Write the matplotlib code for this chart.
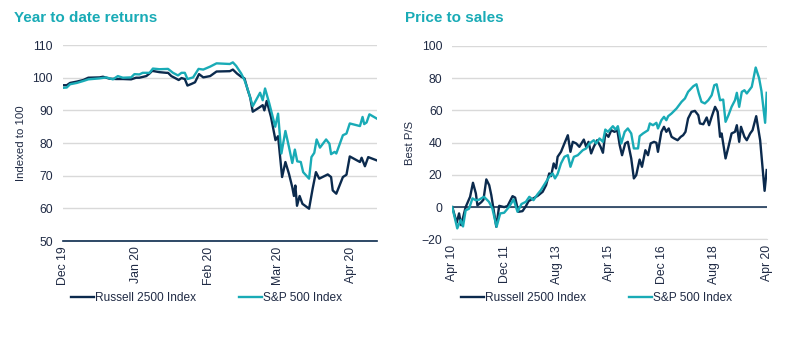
import numpy as np
import pandas as pd
import matplotlib
matplotlib.use('Agg')
import matplotlib.pyplot as plt

plt.rcParams['font.family'] = ['Liberation Sans', 'DejaVu Sans']

NAVY, TEAL, GRID, TXT = '#0b2a4d', '#19abb6', '#d9d9d9', '#1f2a44'

# ---- Year to date returns (x = days since 1 Dec 2019) ----
ytd_start = pd.Timestamp('2019-12-01')
ytd_ticks = ['2019-12-01', '2020-01-01', '2020-02-01', '2020-03-01', '2020-04-01']
ytd_labels = ['Dec 19', 'Jan 20', 'Feb 20', 'Mar 20', 'Apr 20']

r2500_days = [0, 1.7, 3.1, 5.9, 8.7, 10.8, 15.6, 17.0, 19.8, 22.6, 25.4, 28.9, 31, 32.4,
              35.3, 36.7, 37.8, 40.9, 43.8, 44.5, 45.9, 48.0, 49.0, 50.2, 51.6, 52.7,
              54.4, 55.9, 57.6, 59.4, 62.3, 65.0, 70.6, 71.9, 73.6, 75.4, 76.8, 78.2,
              79.2, 80.3, 83.1, 84.5, 85.2, 86.2, 88.0, 89.9, 91.0, 92.7, 94.1, 95.6,
              97.0, 97.7, 98.3, 99.0, 100.1, 101.3, 104.1, 105.6, 107.0, 108.4, 112.0,
              113.4, 114.1, 115.6, 118.4, 119.9, 121.3, 125.6, 126.3, 127.7, 129.1, 132.7]
r2500_ytd = [97.7, 97.7, 98.4, 98.8, 99.3, 100.0, 100.1, 100.3, 99.7, 99.6, 99.6, 99.5, 100.0,
             100.0, 100.5, 101.3, 102.1, 101.7, 101.5, 101.5, 100.5, 99.7, 99.3, 99.9, 99.6,
             97.6, 98.1, 98.6, 101.1, 100.1, 100.5, 101.9, 102.0, 102.5, 101.3, 100.3, 99.8,
             96.2, 94.0, 89.6, 90.9, 91.6, 90.0, 92.9, 88.0, 80.9, 82.1, 69.6, 74.2, 70.6,
             66.5, 63.8, 67.0, 60.8, 63.8, 61.4, 59.9, 66.0, 71.1, 69.1, 70.4, 69.6, 65.5,
             64.5, 69.6, 70.3, 75.9, 74.2, 75.5, 72.9, 75.7, 74.7]

sp500_days = [0, 1.7, 3.1, 5.9, 8.7, 10.8, 15.6, 18.4, 21.2, 23.3, 25.4, 28.9, 30.3, 32.4,
              33.8, 36.7, 38.1, 40.9, 44.5, 46.6, 48.7, 50.2, 51.6, 52.7, 55.1, 57.4, 59.4,
              62.3, 65.0, 70.6, 71.9, 73.3, 75.4, 76.8, 78.2, 80.3, 83.4, 84.5, 85.5, 87.3,
              89.8, 91.0, 92.4, 94.1, 95.6, 97.0, 98.1, 99.1, 100.6, 101.6, 104.1, 105.1,
              106.3, 107.3, 108.7, 111.3, 112.7, 113.4, 114.9, 115.6, 118.4, 119.9, 121.3,
              125.6, 126.7, 127.4, 128.4, 129.6, 132.7]
sp500_ytd = [96.9, 97.0, 98.0, 98.4, 99.0, 99.5, 99.8, 100.1, 99.5, 100.5, 100.0, 100.1, 101.1,
             101.0, 101.5, 101.5, 102.8, 102.6, 102.7, 101.5, 100.7, 101.5, 101.5, 99.6, 100.1,
             102.7, 102.5, 103.4, 104.4, 104.2, 104.7, 103.6, 101.3, 99.3, 96.4, 91.3, 95.4,
             93.1, 96.7, 92.1, 85.0, 89.0, 76.8, 83.7, 78.8, 73.9, 78.0, 74.4, 74.2, 71.1,
             69.1, 75.7, 77.0, 81.1, 78.6, 81.1, 79.8, 76.6, 77.3, 76.8, 82.4, 82.9, 86.0,
             85.2, 88.0, 85.8, 86.3, 88.8, 87.5]

# ---- Price to sales (x = months since Apr 2010) ----
ps_ticks = [0, 20, 40, 60, 80, 100, 120]
ps_labels = ['Apr 10', 'Dec 11', 'Aug 13', 'Apr 15', 'Dec 16', 'Aug 18', 'Apr 20']

r2500_months = [0, 1.7, 2.6, 3.4, 5.1, 6.8, 7.9, 9.0, 9.6, 11.1, 11.9, 13.0, 14.1, 14.9,
                16.8, 17.9, 19.8, 21.1, 23.0, 24.0, 25.2, 26.8, 28.1, 29.1, 32.6, 34.5,
                35.8, 37.0, 37.7, 38.7, 39.6, 40.2, 41.5, 42.8, 44.1, 45.1, 46.0, 47.3,
                48.5, 50.2, 51.1, 52.0, 53.0, 54.0, 55.3, 56.6, 57.5, 58.4, 59.6, 60.7,
                61.9, 63.0, 63.9, 64.8, 66.0, 67.0, 68.3, 69.3, 70.2, 71.5, 72.4, 73.7,
                74.7, 75.7, 77.0, 77.9, 78.5, 79.8, 80.8, 81.7, 82.6, 83.7, 84.7, 86.0,
                87.2, 88.1, 89.0, 90.0, 91.3, 92.6, 93.9, 94.5, 95.8, 97.1, 98.0, 99.0,
                100.3, 101.3, 102.2, 102.8, 104.3, 105.4, 106.6, 107.9, 108.6, 109.5,
                110.2, 111.5, 112.4, 113.7, 114.6, 116.0, 117.5, 119.2, 120]
r2500_ps = [0, -9.7, -3.9, -11.2, 0, 6.4, 15.1, 8.5, 1.1, 3.1, 4.6, 17.2, 13.6, 7.4,
            -12.2, 0.8, 0, 0.7, 6.8, 5.9, -2.9, -2.5, 0.6, 3.7, 7.0, 9.5,
            13.6, 20.9, 19.2, 27.1, 24.0, 31.2, 34.3, 39.5, 44.6, 34.3, 40.5, 39.5,
            37.4, 41.9, 37.4, 40.5, 33.3, 37.4, 41.5, 37.4, 33.7, 45.7, 43.6, 47.7,
            46.7, 47.7, 38.4, 32.2, 39.5, 40.5, 30.2, 17.8, 19.8, 29.5, 25.0, 35.3,
            32.2, 39.5, 40.5, 39.9, 34.3, 46.7, 49.8, 46.7, 48.8, 43.6, 42.6, 41.5,
            43.6, 44.6, 46.7, 55.0, 59.1, 59.7, 57.0, 51.9, 51.4, 55.6, 50.8, 56.0,
            62.2, 59.1, 43.6, 45.7, 30.2, 37.4, 45.7, 46.7, 50.8, 40.5,
            49.8, 43.6, 41.5, 45.7, 47.7, 56.4, 41.5, 10.1, 23.0]

sp500_months = [0, 1.9, 3.2, 4.1, 5.1, 6.4, 7.7, 8.9, 10.2, 12.1, 14.0, 15.3, 16.9, 18.3,
                19.8, 21.7, 23.4, 24.9, 26.4, 28.1, 29.4, 31.0, 32.6, 33.8, 35.8, 37.0,
                38.3, 39.2, 40.2, 41.5, 42.8, 44.1, 45.1, 46.4, 47.9, 49.8, 51.1, 52.4,
                54.0, 54.9, 56.2, 57.5, 58.4, 59.4, 61.3, 62.3, 63.2, 64.5, 65.8, 67.0,
                68.3, 69.3, 70.9, 71.5, 72.8, 74.7, 75.4, 76.6, 77.9, 78.5, 79.8, 80.8,
                81.7, 82.4, 83.7, 85.6, 87.5, 88.8, 90.0, 92.0, 93.2, 94.1, 95.1, 96.4,
                97.7, 99.0, 100.0, 100.9, 102.2, 103.4, 104.3, 105.4, 106.6, 107.9, 108.6,
                109.5, 110.5, 111.5, 112.4, 114.3, 115.8, 117.1, 118.0, 119.4, 120]
sp500_ps = [0, -13.2, -8.0, -12.0, -2.0, -1.0, 5.4, 4.3, 4.6, 6.4, 3.3, -0.8, -12.2, -3.9,
            -3.5, 0.2, 4.8, -2.9, 1.9, 3.3, 6.4, 4.3, 8.1, 10.5, 15.7, 18.8,
            20.9, 17.8, 20.5, 27.1, 31.2, 32.2, 25.0, 31.2, 32.2, 35.3, 36.4, 39.5,
            41.5, 39.5, 42.6, 40.5, 48.1, 46.7, 50.2, 48.1, 50.2, 39.5, 46.7, 48.8,
            45.7, 36.4, 36.4, 44.0, 45.7, 47.7, 51.9, 50.8, 52.3, 48.8, 53.9, 56.0,
            53.9, 56.4, 58.1, 61.2, 65.3, 67.4, 71.5, 75.0, 76.2, 70.5, 65.3, 64.3,
            66.3, 69.4, 75.6, 76.2, 66.3, 66.7, 52.9, 57.0, 62.2, 66.3, 70.9,
            62.2, 71.5, 72.5, 70.5, 74.6, 86.6, 80.0, 72.0, 52.3, 70.9]

fig = plt.figure(figsize=(7.9, 3.4), dpi=100)
ax1 = fig.add_axes([0.0794, 0.291, 0.3975, 0.5765])
ax2 = fig.add_axes([0.5725, 0.296, 0.398, 0.569])


def style(ax):
    for s in ['top', 'right', 'left']:
        ax.spines[s].set_visible(False)
    ax.grid(axis='y', color=GRID, lw=1)
    ax.set_axisbelow(True)
    ax.tick_params(length=0, labelsize=8.8, colors=TXT, pad=7)
    ax.tick_params(axis='x', labelrotation=90, pad=4)


# left panel
ax1.plot(r2500_days, r2500_ytd, color=NAVY, lw=1.7, label='Russell 2500 Index')
ax1.plot(sp500_days, sp500_ytd, color=TEAL, lw=1.7, label='S&P 500 Index')
ax1.set_ylim(50, 110)
ax1.set_yticks(range(50, 111, 10))
ax1.set_xlim(0, 132.7)
ax1.set_xticks([(pd.Timestamp(d) - ytd_start).days for d in ytd_ticks])
ax1.set_xticklabels(ytd_labels)
style(ax1)
ax1.spines['bottom'].set_color(NAVY)
ax1.spines['bottom'].set_linewidth(1.2)
ax1.set_ylabel('Indexed to 100', fontsize=8.2, color=TXT, labelpad=5)

# right panel
ax2.plot(r2500_months, r2500_ps, color=NAVY, lw=1.7, label='Russell 2500 Index')
ax2.plot(sp500_months, sp500_ps, color=TEAL, lw=1.7, label='S&P 500 Index')
ax2.axhline(0, color=NAVY, lw=1.1, zorder=1.5)
ax2.set_ylim(-20, 100)
ax2.set_yticks(range(-20, 101, 20))
ax2.set_xlim(0, 120)
ax2.set_xticks(ps_ticks)
ax2.set_xticklabels(ps_labels)
style(ax2)
ax2.spines['bottom'].set_color(GRID)
ax2.set_ylabel('Best P/S', fontsize=8.2, color=TXT, labelpad=5)

for ax, x0 in [(ax1, 71 / 790), (ax2, 461 / 790)]:
    ax.legend(loc='center left', bbox_to_anchor=(x0, 42 / 340), bbox_transform=fig.transFigure,
              ncol=2, frameon=False, fontsize=8.6, handlelength=1.9, handletextpad=0.12,
              columnspacing=3.6, borderaxespad=0, borderpad=0, labelcolor=TXT)

fig.text(14 / 790, 1 - 18 / 340, 'Year to date returns', fontsize=11, fontweight='bold',
         color=TEAL, va='center', ha='left')
fig.text(405 / 790, 1 - 18 / 340, 'Price to sales', fontsize=11, fontweight='bold',
         color=TEAL, va='center', ha='left')

fig.savefig('out.png', dpi=100, facecolor='white')
